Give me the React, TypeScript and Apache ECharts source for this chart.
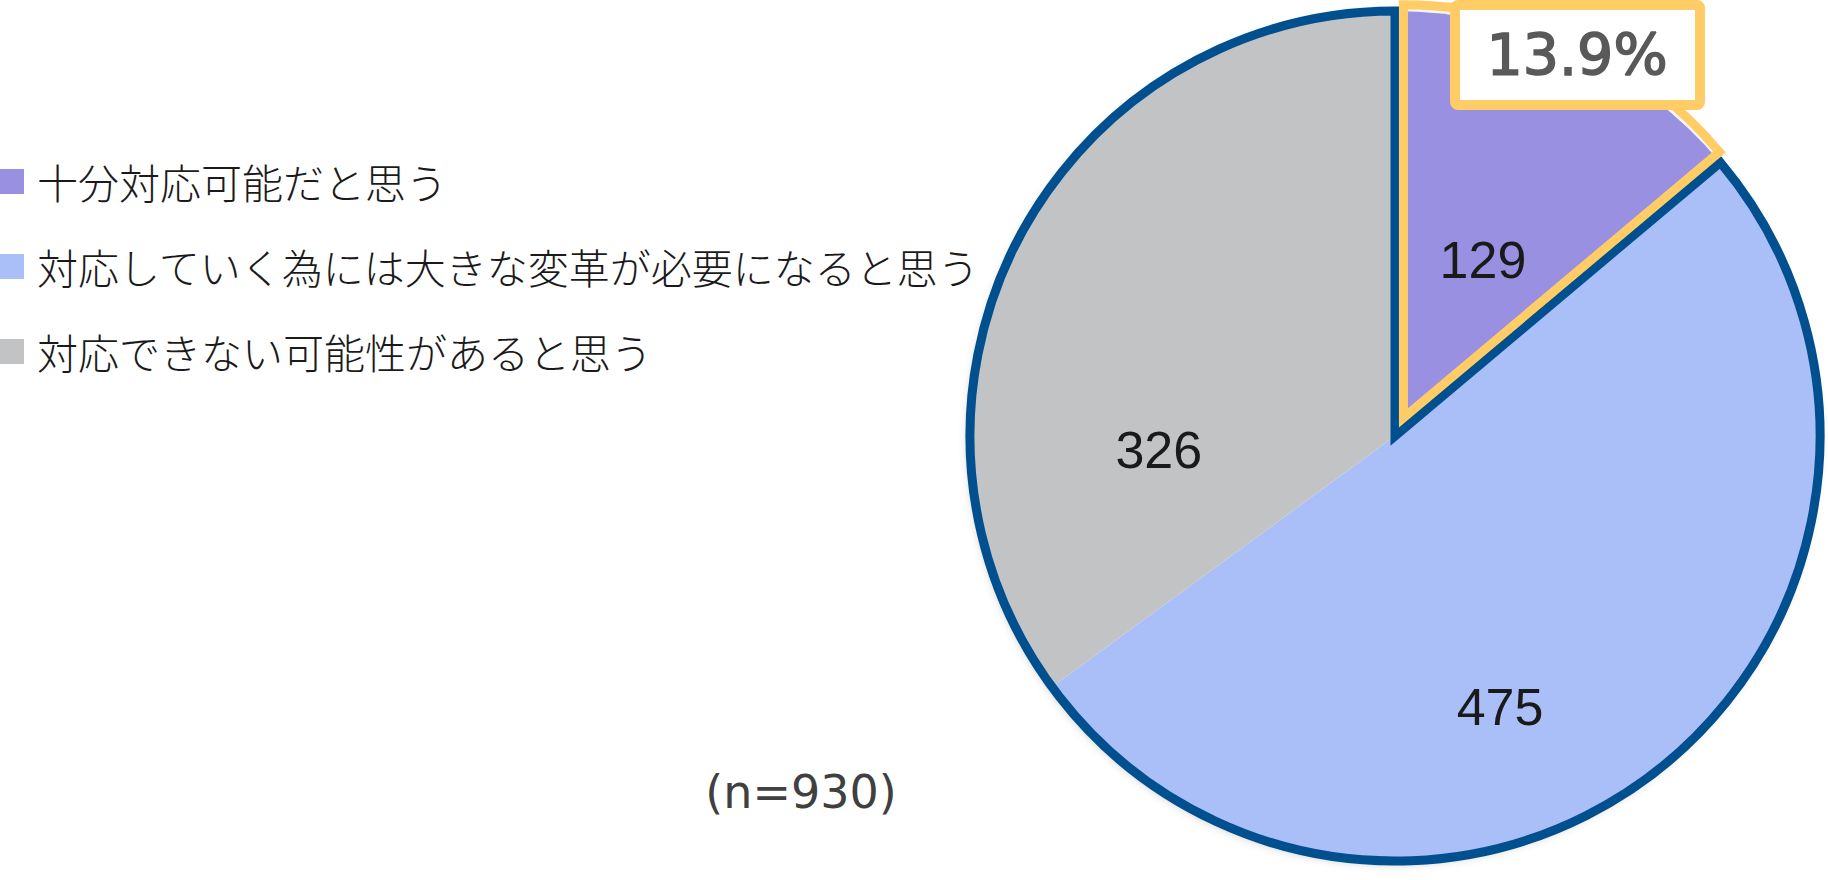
import React, { useEffect, useRef } from 'react';
import * as echarts from 'echarts';

// answer categories (legend order = slice order, clockwise from 12 o'clock)
const categories = [
  '十分対応可能だと思う',
  '対応していく為には大きな変革が必要になると思う',
  '対応できない可能性があると思う',
];
const counts = [129, 475, 326];
const sliceColors = ['#9A90E2', '#AABEF7', '#C2C3C5'];

// nudge of each value label away from the default "inside" spot (px)
const labelShift = [
  [-3, 19],
  [-28, 101],
  [-44, 112],
];

const OUTLINE = '#00508F';
const HIGHLIGHT = '#FFCC66';

// pie geometry
const CX = 1395;
const CY = 436;
const R = 425;

const App: React.FC = () => {
  const chartRef = useRef<HTMLDivElement>(null);

  useEffect(() => {
    if (!chartRef.current) return;
    const chart = echarts.init(chartRef.current, undefined, { renderer: 'svg' });

    const total = counts.reduce((a, b) => a + b, 0);
    const rest = total - counts[0];
    const share = ((counts[0] / total) * 100).toFixed(1) + '%';

    // the highlight frame is pulled out along the first slice's bisector
    const half = (counts[0] / total) * Math.PI;
    const explode = 20;
    const hx = CX + explode * Math.sin(half);
    const hy = CY - explode * Math.cos(half);

    const option: any = {
      animation: false,
      legend: {
        orient: 'vertical',
        left: 0,
        top: 161,
        padding: 0,
        itemGap: 44,
        itemWidth: 24,
        itemHeight: 25,
        icon: 'rect',
        selectedMode: false,
        data: categories,
        textStyle: {
          fontFamily: 'Noto Sans CJK JP',
          fontSize: 41,
          fontWeight: 300,
          color: '#1a1a1a',
          lineHeight: 40,
          padding: [0, 0, 0, 8],
        },
      },
      series: [
        {
          // soft shadow under the whole disc
          type: 'pie',
          name: 'shadow',
          center: [CX, CY],
          radius: R,
          silent: true,
          z: 1,
          label: { show: false },
          labelLine: { show: false },
          data: [
            {
              name: 'bg',
              value: total,
              itemStyle: {
                color: '#ffffff',
                shadowBlur: 10,
                shadowColor: 'rgba(0,0,0,0.22)',
                shadowOffsetX: -2,
                shadowOffsetY: 3,
              },
            },
          ],
        },
        {
          type: 'pie',
          name: 'answers',
          center: [CX, CY],
          radius: R,
          startAngle: 90,
          clockwise: true,
          silent: true,
          z: 2,
          avoidLabelOverlap: false,
          itemStyle: { borderWidth: 0 },
          label: {
            show: true,
            position: 'inside',
            formatter: '{c}',
            fontFamily: 'Liberation Sans',
            fontSize: 52,
            color: '#1a1a1a',
          },
          labelLine: { show: false },
          labelLayout: (p: any) => ({
            dx: labelShift[p.dataIndex][0],
            dy: labelShift[p.dataIndex][1],
          }),
          data: categories.map((name, i) => ({
            name,
            value: counts[i],
            itemStyle: { color: sliceColors[i] },
          })),
        },
        {
          // dark outline around the remaining two slices as one shape
          type: 'pie',
          name: 'outline',
          center: [CX, CY],
          radius: R,
          startAngle: 90,
          silent: true,
          z: 3,
          label: { show: false },
          labelLine: { show: false },
          data: [
            { name: 'gap', value: counts[0], itemStyle: { color: 'transparent', borderWidth: 0 } },
            {
              name: 'rest',
              value: rest,
              itemStyle: {
                color: 'transparent',
                borderColor: OUTLINE,
                borderWidth: 9,
                borderJoin: 'miter',
              },
            },
          ],
        },
        {
          // yellow frame of the highlighted slice
          type: 'pie',
          name: 'highlight',
          center: [hx, hy],
          radius: R - 12,
          startAngle: 90,
          silent: true,
          z: 4,
          label: { show: false },
          labelLine: { show: false },
          data: [
            {
              name: 'hl',
              value: counts[0],
              itemStyle: {
                color: 'transparent',
                borderColor: HIGHLIGHT,
                borderWidth: 9,
                borderJoin: 'miter',
              },
            },
            { name: 'other', value: rest, itemStyle: { color: 'transparent', borderWidth: 0 } },
          ],
        },
      ],
      graphic: [
        {
          type: 'rect',
          z: 10,
          shape: { x: 1455, y: 5, width: 245, height: 100, r: 3 },
          style: { fill: '#ffffff', stroke: HIGHLIGHT, lineWidth: 10 },
        },
        {
          type: 'text',
          z: 11,
          x: 1577,
          y: 55,
          style: {
            text: share,
            fontFamily: 'DejaVu Sans',
            fontSize: 57,
            fill: '#595959',
            stroke: '#595959',
            lineWidth: 1.6,
            align: 'center',
            verticalAlign: 'middle',
          },
        },
        {
          type: 'text',
          z: 11,
          x: 801,
          y: 792,
          style: {
            text: `(n=${total})`,
            fontFamily: 'DejaVu Sans',
            fontSize: 46,
            fill: '#404040',
            align: 'center',
            verticalAlign: 'middle',
          },
        },
      ],
    };

    chart.setOption(option);

    return () => {
      chart.dispose();
    };
  }, []);

  return (
    <div
      ref={chartRef}
      style={{ position: 'fixed', left: 0, top: 0, width: 1828, height: 880, background: '#fff' }}
    />
  );
};

export default App;
